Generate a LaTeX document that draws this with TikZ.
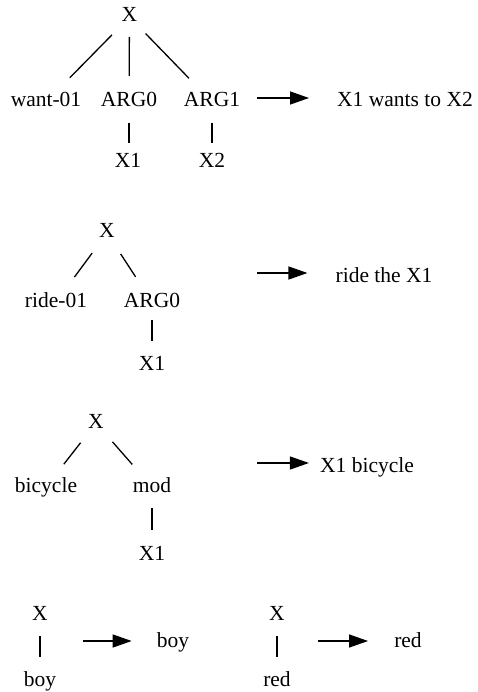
\documentclass[tikz,border=0pt]{standalone}
\usepackage{fontspec}
\setmainfont{Liberation Serif}
\newfontfamily\tnrfont{Liberation Serif}
\usetikzlibrary{arrows.meta}
\begin{document}
\begin{tikzpicture}[x=1pt,y=-1pt,
  lbl/.style={inner sep=0pt, text height=14pt, text depth=4pt, anchor=base, font=\tnrfont\fontsize{21.5}{24}\selectfont},
  edge/.style={line width=1.3pt},
  arr/.style={line width=1.3pt, -{Triangle[length=19pt,width=13pt]}}]
\useasboundingbox (0,0) rectangle (478,692);
% ---- tree 1
\node[lbl] (t1x) at (129.5,22) {X};
\node[lbl] (t1w) at (46,107) {want-01};
\node[lbl] (t1a0) at (129,107) {ARG0};
\node[lbl] (t1a1) at (212,107) {ARG1};
\node[lbl] (t1x1) at (128,168) {X1};
\node[lbl] (t1x2) at (212,168) {X2};
\node[lbl] (t1r) at (405,107) {X1 wants to X2};
\draw[edge, shorten <=25pt, shorten >=34pt] (t1x.center) -- (t1w.center);
\draw[edge, shorten <=20pt, shorten >=26pt] (t1x.center) -- (t1a0.center);
\draw[edge, shorten <=23pt, shorten >=33pt] (t1x.center) -- (t1a1.center);
\draw[edge, shorten <=21pt, shorten >=20pt] (t1a0.center) -- (t1a0.center |- t1x1.center);
\draw[edge, shorten <=21pt, shorten >=20pt] (t1a1.center) -- (t1x2.center);
\coordinate (a1) at (257,98);
\draw[arr, shorten >=28pt] (a1) -- (a1 -| t1r.west);
% ---- tree 2
\node[lbl] (t2x) at (107,238) {X};
\node[lbl] (t2r1) at (56,307) {ride-01};
\node[lbl] (t2a0) at (152,307) {ARG0};
\node[lbl] (t2x1) at (152,370) {X1};
\node[lbl] (t2r) at (384,282) {ride the X1};
\draw[edge, shorten <=25pt, shorten >=31pt] (t2x.center) -- (t2r1.center);
\draw[edge, shorten <=25pt, shorten >=30pt] (t2x.center) -- (t2a0.center);
\draw[edge, shorten <=18pt, shorten >=24pt] (t2a0.center) -- (t2x1.center);
\coordinate (a2) at (257,273);
\draw[arr, shorten >=28pt] (a2) -- (a2 -| t2r.west);
% ---- tree 3
\node[lbl] (t3x) at (96,428) {X};
\node[lbl] (t3b) at (46,492) {bicycle};
\node[lbl] (t3m) at (152,492) {mod};
\node[lbl] (t3x1) at (152,560) {X1};
\node[lbl] (t3r) at (367,472) {X1 bicycle};
\draw[edge, shorten <=25pt, shorten >=29pt] (t3x.center) -- (t3b.center);
\draw[edge, shorten <=25pt, shorten >=30pt] (t3x.center) -- (t3m.center);
\draw[edge, shorten <=21pt, shorten >=25pt] (t3m.center) -- (t3x1.center);
\coordinate (a3) at (257,463);
\draw[arr, shorten >=11pt] (a3) -- (a3 -| t3r.west);
% ---- bottom left
\node[lbl] (t4x) at (40,620) {X};
\node[lbl] (t4b) at (40,686) {boy};
\node[lbl] (t4r) at (173,647) {boy};
\draw[edge, shorten <=21pt, shorten >=24pt] (t4x.center) -- (t4b.center);
\coordinate (a4) at (83,641);
\draw[arr, shorten >=25pt] (a4) -- (a4 -| t4r.west);
% ---- bottom right
\node[lbl] (t5x) at (277,620) {X};
\node[lbl] (t5b) at (277,686) {red};
\node[lbl] (t5r) at (408,647) {red};
\draw[edge, shorten <=21pt, shorten >=24pt] (t5x.center) -- (t5b.center);
\coordinate (a5) at (318,641);
\draw[arr, shorten >=26pt] (a5) -- (a5 -| t5r.west);
\end{tikzpicture}
\end{document}
